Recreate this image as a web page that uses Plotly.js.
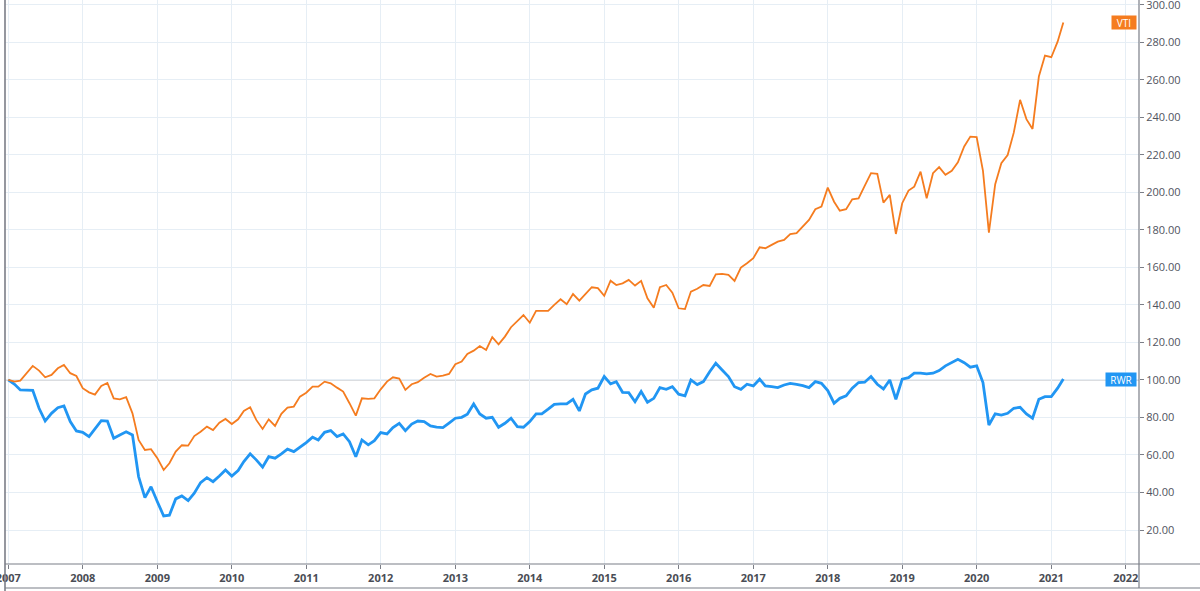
<!DOCTYPE html>
<html>
<head>
<meta charset="utf-8">
<script src="https://cdn.plot.ly/plotly-3.0.1.min.js"></script>
<style>
html,body{margin:0;padding:0;background:#fff;}
#chart{width:1200px;height:591px;}
</style>
</head>
<body>
<div id="chart"></div>
<script>
// Monthly series, starting January 2007
const startYear = 2007, startMonth = 1;

const vti = [
  100, 99.1, 99.6, 103.6, 107.5, 105, 101.4, 102.7, 106.2, 108, 103.6, 102.1,
  95.6, 93.4, 92.2, 96.8, 98.4, 90.2, 89.7, 90.8, 82.2, 68, 62.7, 63.1,
  58.3, 52, 55.6, 61.8, 65.2, 65, 70.1, 72.4, 75.1, 73.3, 77.2, 79.2,
  76.5, 79, 83.5, 85.4, 78.7, 73.9, 79, 75.5, 81.9, 85.2, 85.8, 91.1,
  93.2, 96.4, 96.4, 99.1, 98.2, 95.9, 93.8, 87.6, 81, 90.2, 89.9, 90.2,
  95, 99.1, 101.4, 100.7, 94.7, 97.7, 98.8, 101.2, 103.2, 101.8, 102.3, 103.2,
  108.4, 109.8, 113.9, 115.6, 118.1, 116, 122.8, 119, 123.1, 128.1, 131.6, 134.6,
  130.5, 136.8, 136.8, 136.8, 140, 143, 140.4, 145.8, 142.3, 145.8, 149.4, 148.9,
  144.8, 152.9, 150.6, 151.5, 153.3, 150.3, 152.8, 143.5, 138.5, 149.4, 150.6, 146.5,
  138.2, 137.8, 147.1, 148.6, 150.6, 150.1, 156.3, 156.5, 156, 152.8, 159.9, 162.2,
  164.9, 170.7, 170.2, 172, 173.7, 174.6, 177.7, 178.2, 181.7, 185.3, 191, 192.4,
  202.5, 195, 190.2, 191, 196.3, 196.8, 203.4, 210.2, 209.8, 194.5, 198.6, 177.8,
  194.2, 200.9, 203, 211, 196.8, 210.2, 213.4, 209.3, 211.5, 216, 224.4, 229.7,
  229.4, 211.4, 178.5, 204.3, 215.5, 219.9, 231.8, 249.3, 239, 233.8, 261.7, 272.9,
  272, 280.3, 290.5
];

const rwr = [
  100, 97.7, 94.7, 94.7, 94.5, 84.9, 78.1, 82.2, 85.2, 86.1, 77.8, 72.8,
  72.1, 69.8, 73.9, 78.3, 78.1, 68.9, 70.7, 72.4, 70.7, 48.5, 37.3, 43.1,
  35.1, 27.5, 27.9, 36.6, 38.2, 35.7, 39.6, 45.3, 47.9, 45.8, 48.8, 52,
  48.8, 51.7, 56.5, 60.6, 57.4, 53.5, 59.1, 58.3, 60.6, 63.1, 61.8, 64.1,
  66.6, 69.5, 68, 72.1, 73, 69.8, 71.2, 67.1, 59.1, 68, 65.4, 67.6,
  71.9, 71.2, 74.6, 76.9, 73, 76.5, 78.1, 77.8, 75.5, 74.8, 74.6, 77,
  79.6, 80.1, 81.7, 87.2, 81.9, 79.6, 80.1, 74.8, 76.9, 79.6, 75.1, 74.8,
  77.8, 81.9, 81.9, 84.4, 87, 87.2, 87.2, 89.7, 83.5, 92.5, 94.7, 95.6,
  101.8, 97.9, 99.1, 93.4, 93.2, 88.4, 93.8, 88.1, 90.2, 95.9, 95, 96.4,
  92.4, 91.5, 100, 97.5, 99.1, 104.4, 108.9, 105.3, 101.8, 96.4, 95, 97.7,
  96.8, 100.4, 96.8, 96.4, 95.9, 97.3, 98.2, 97.7, 97, 95.9, 99.1, 98.2,
  94.3, 87.6, 90.2, 91.5, 95.6, 98.6, 98.8, 101.8, 97.7, 95.2, 100, 89.7,
  100.4, 101.2, 103.6, 103.6, 103.2, 103.6, 105, 107.5, 109.1, 111, 109.2, 106.8,
  107.5, 98.6, 76, 81.9, 81.3, 82.2, 84.9, 85.4, 81.9, 79.6, 89.7, 91.1,
  91.1, 95.6, 100.5
];

const seriesNames = ['VTI', 'RWR'];
const seriesColors = ['#f57c1f', '#2196f3'];
const baseline = 100;

function monthDates(n) {
  const out = [];
  for (let i = 0; i < n; i++) {
    const y = startYear + Math.floor((startMonth - 1 + i) / 12);
    const m = ((startMonth - 1 + i) % 12) + 1;
    out.push(y + '-' + String(m).padStart(2, '0') + '-01');
  }
  return out;
}

const dates = monthDates(vti.length);

const traces = [
  {x: dates, y: rwr, type: 'scatter', mode: 'lines', name: seriesNames[1],
   line: {color: seriesColors[1], width: 2.8}, hoverinfo: 'skip'},
  {x: dates, y: vti, type: 'scatter', mode: 'lines', name: seriesNames[0],
   line: {color: seriesColors[0], width: 1.8}, hoverinfo: 'skip'}
];

const frameColor = '#7b7e87';
const gridColor = '#e6eef5';

const layout = {
  width: 1200, height: 591,
  margin: {l: 5, r: 61, t: 0, b: 27, pad: 0},
  paper_bgcolor: '#ffffff', plot_bgcolor: '#ffffff',
  showlegend: false,
  font: {family: 'Open Sans, Roboto, sans-serif', size: 11, color: '#50535e'},
  xaxis: {
    type: 'date',
    range: ['2006-12-16', '2022-03-07'],
    tick0: '2007-01-01', dtick: 'M12', tickformat: '%Y',
    ticks: 'outside', ticklen: 4, tickcolor: frameColor, tickwidth: 1,
    showgrid: true, gridcolor: gridColor, gridwidth: 1,
    zeroline: false, showline: false,
    ticklabeloverflow: 'allow',
    tickfont: {family: 'Open Sans, Roboto, sans-serif', size: 11, color: '#4a4d55', weight: 700},
    fixedrange: true
  },
  yaxis: {
    side: 'right',
    range: [1.9, 302.5],
    tick0: 0, dtick: 20, tickformat: '.2f',
    ticks: 'outside', ticklen: 4, tickcolor: frameColor, tickwidth: 1,
    showgrid: true, gridcolor: gridColor, gridwidth: 1,
    zeroline: false, showline: false,
    ticklabeloverflow: 'allow',
    tickfont: {family: 'Open Sans, Roboto, sans-serif', size: 11, color: '#50535e'},
    fixedrange: true
  },
  shapes: [
    {type: 'line', xref: 'paper', yref: 'y', x0: 0, x1: 1, y0: baseline, y1: baseline,
     line: {color: '#b8bbc2', width: 1.2}, layer: 'below'},
    // frame
    {type: 'line', xref: 'paper', yref: 'paper', x0: 0, x1: 0, y0: -27/564, y1: 1,
     line: {color: frameColor, width: 1.6}},
    {type: 'line', xref: 'paper', yref: 'paper', x0: 0, x1: 1195/1134, y0: 0, y1: 0,
     line: {color: frameColor, width: 1.2}},
    {type: 'line', xref: 'paper', yref: 'paper', x0: 1, x1: 1, y0: -24/564, y1: 1,
     line: {color: frameColor, width: 1.2}},
    {type: 'line', xref: 'paper', yref: 'paper', x0: 0, x1: 1195/1134, y0: -24/564, y1: -24/564,
     line: {color: frameColor, width: 1.2}}
  ],
  annotations: [
    {xref: 'paper', yref: 'y', x: 1, y: vti[vti.length - 1], xanchor: 'right', yanchor: 'middle',
     xshift: -2, text: seriesNames[0], showarrow: false, bgcolor: seriesColors[0],
     width: 22, height: 11, borderpad: 1,
     font: {color: '#ffffff', size: 10, family: 'Open Sans, Roboto, sans-serif'}},
    {xref: 'paper', yref: 'y', x: 1, y: rwr[rwr.length - 1], xanchor: 'right', yanchor: 'middle',
     xshift: -2, text: seriesNames[1], showarrow: false, bgcolor: seriesColors[1],
     width: 28, height: 11, borderpad: 1,
     font: {color: '#ffffff', size: 10, family: 'Open Sans, Roboto, sans-serif'}}
  ]
};

Plotly.newPlot('chart', traces, layout, {staticPlot: true, displayModeBar: false});
</script>
</body>
</html>
